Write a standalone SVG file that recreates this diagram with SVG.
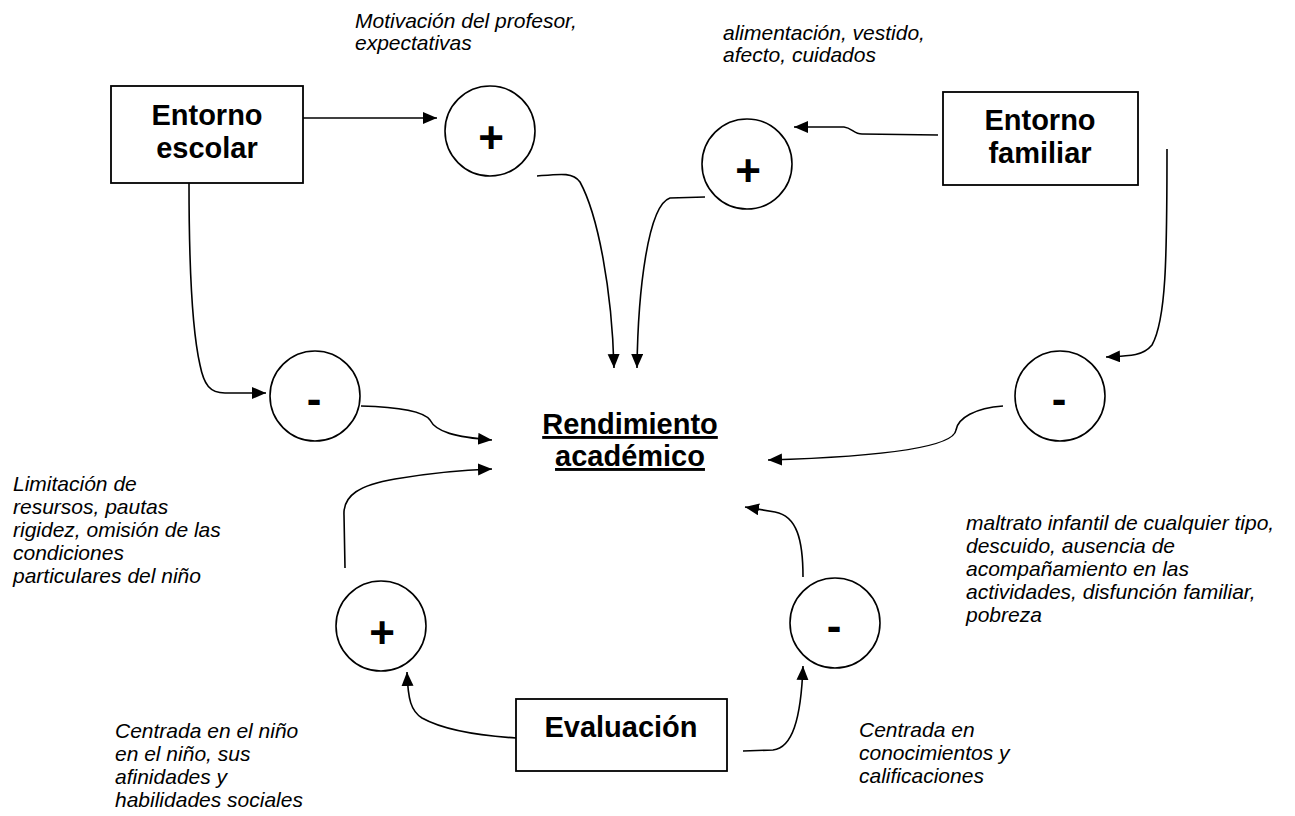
<svg xmlns="http://www.w3.org/2000/svg" width="1295" height="816" viewBox="0 0 1295 816">
<style>
.box{fill:#fff;stroke:#000;stroke-width:1.8}
.circ{fill:#fff;stroke:#000;stroke-width:1.6}
.bt{font-family:"Liberation Sans",Arial,sans-serif;font-weight:bold;font-size:29px;text-anchor:middle;fill:#000}
.sg{font-family:"Liberation Sans",Arial,sans-serif;font-weight:bold;font-size:44px;text-anchor:middle;fill:#000}
.it{font-family:"Liberation Sans",Arial,sans-serif;font-style:italic;font-size:21px;fill:#000}
.ul{text-decoration:underline}
.con{fill:none;stroke:#000;stroke-width:1.6;marker-end:url(#ah)}
</style>
<defs>
<marker id="ah" markerUnits="userSpaceOnUse" markerWidth="16" markerHeight="14" refX="14" refY="6" orient="auto">
<path d="M0,0 L14,6 L0,12 z" fill="#000"/>
</marker>
</defs>
<rect width="1295" height="816" fill="#fff"/>

<g id="connectors">
<path class="con" d="M303,118 L437,118"/>
<path class="con" d="M537,176 C560,174 573,172 580,182 C598,215 612,290 614,368"/>
<path class="con" d="M705,197 L670,198 C648,205 638,290 637,368"/>
<path class="con" d="M938,135 L862,134 C854,134 852,128 844,127 L794,127"/>
<path class="con" d="M1167,149 C1167,260 1166,320 1152,345 C1143,356 1130,356 1106,357"/>
<path class="con" d="M189,183 C189,260 192,330 200,365 C204,385 210,393 225,393 L266,393"/>
<path class="con" d="M361,406 C400,407 424,412 430,420 C436,432 455,437 492,440"/>
<path class="con" d="M1003,406 C975,408 958,418 956,430 C954,445 900,456 768,460"/>
<path class="con" d="M345,568 L344,515 C343,495 360,485 395,479 C430,473 460,470 492,469"/>
<path class="con" d="M803,577 C803,540 797,516 775,512 L745,507"/>
<path class="con" d="M516,738 C470,735 440,728 422,718 C411,711 408,700 407,672"/>
<path class="con" d="M743,751 L773,750 C792,748 801,720 803,666"/>
</g>

<g id="entorno-escolar">
<rect class="box" x="111" y="86" width="192" height="97"/>
<text class="bt" x="207" y="125">Entorno</text>
<text class="bt" x="207" y="158">escolar</text>
</g>

<g id="entorno-familiar">
<rect class="box" x="943" y="92" width="195" height="93"/>
<text class="bt" x="1040" y="130">Entorno</text>
<text class="bt" x="1040" y="163">familiar</text>
</g>

<g id="evaluacion">
<rect class="box" x="516" y="699" width="211" height="72"/>
<text class="bt" x="621" y="737">Evaluación</text>
</g>

<g id="rendimiento">
<text class="bt ul" x="630" y="434">Rendimiento</text>
<text class="bt ul" x="630" y="466">académico</text>
</g>

<g id="plus-escolar">
<circle class="circ" cx="490" cy="131" r="45"/>
<text class="sg" x="491" y="153">+</text>
</g>

<g id="plus-familiar">
<circle class="circ" cx="747" cy="164" r="45"/>
<text class="sg" x="748" y="186">+</text>
</g>

<g id="minus-escolar">
<circle class="circ" cx="315" cy="396" r="45"/>
<text class="sg" x="314" y="414">-</text>
</g>

<g id="minus-familiar">
<circle class="circ" cx="1060" cy="396" r="45"/>
<text class="sg" x="1059" y="414">-</text>
</g>

<g id="plus-evaluacion">
<circle class="circ" cx="381" cy="626" r="45"/>
<text class="sg" x="382" y="648">+</text>
</g>

<g id="minus-evaluacion">
<circle class="circ" cx="835" cy="623" r="45"/>
<text class="sg" x="834" y="641">-</text>
</g>

<g id="labels">
<text class="it" x="355" y="28">Motivación del profesor,</text>
<text class="it" x="355" y="50">expectativas</text>
<text class="it" x="723" y="40">alimentación, vestido,</text>
<text class="it" x="723" y="62">afecto, cuidados</text>
<text class="it" x="13" y="491">Limitación de</text>
<text class="it" x="13" y="514">resursos, pautas</text>
<text class="it" x="13" y="537">rigidez, omisión de las</text>
<text class="it" x="13" y="560">condiciones</text>
<text class="it" x="13" y="583">particulares del niño</text>
<text class="it" x="966" y="530">maltrato infantil de cualquier tipo,</text>
<text class="it" x="966" y="553">descuido, ausencia de</text>
<text class="it" x="966" y="576">acompañamiento en las</text>
<text class="it" x="966" y="599">actividades, disfunción familiar,</text>
<text class="it" x="966" y="622">pobreza</text>
<text class="it" x="115" y="738">Centrada en el niño</text>
<text class="it" x="115" y="761">en el niño, sus</text>
<text class="it" x="115" y="784">afinidades y</text>
<text class="it" x="115" y="807">habilidades sociales</text>
<text class="it" x="859" y="737">Centrada en</text>
<text class="it" x="859" y="760">conocimientos y</text>
<text class="it" x="859" y="783">calificaciones</text>
</g>
</svg>
